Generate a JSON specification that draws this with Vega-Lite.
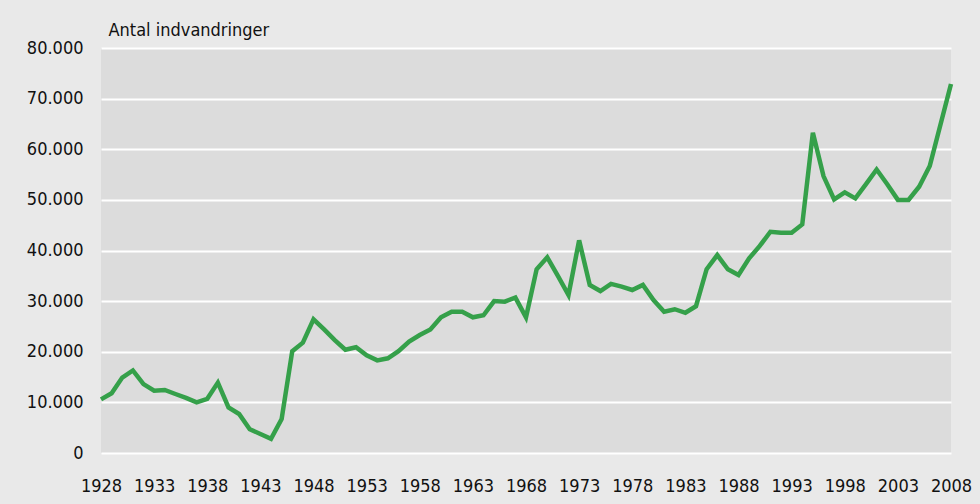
{
  "$schema": "https://vega.github.io/schema/vega-lite/v6.json",
  "width": 850,
  "height": 405,
  "autosize": {"type": "none"},
  "padding": {"left": 101, "top": 48, "right": 29, "bottom": 51},
  "background": "#e9e9e9",
  "config": {
    "view": {"fill": "#dcdcdc", "stroke": null},
    "font": "DejaVu Sans Condensed, Roboto, sans-serif",
    "axis": {"labelFont": "DejaVu Sans Condensed, Roboto, sans-serif", "titleFont": "DejaVu Sans Condensed, Roboto, sans-serif"}
  },
  "data": {
    "values": [
      {"year": 1928, "value": 10600}, {"year": 1929, "value": 11800}, {"year": 1930, "value": 14900},
      {"year": 1931, "value": 16300}, {"year": 1932, "value": 13600}, {"year": 1933, "value": 12300},
      {"year": 1934, "value": 12450}, {"year": 1935, "value": 11650}, {"year": 1936, "value": 10900},
      {"year": 1937, "value": 10000}, {"year": 1938, "value": 10700}, {"year": 1939, "value": 13900},
      {"year": 1940, "value": 9000}, {"year": 1941, "value": 7700}, {"year": 1942, "value": 4700},
      {"year": 1943, "value": 3750}, {"year": 1944, "value": 2800}, {"year": 1945, "value": 6700},
      {"year": 1946, "value": 20100}, {"year": 1947, "value": 21800}, {"year": 1948, "value": 26400},
      {"year": 1949, "value": 24400}, {"year": 1950, "value": 22300}, {"year": 1951, "value": 20400},
      {"year": 1952, "value": 20900}, {"year": 1953, "value": 19300}, {"year": 1954, "value": 18300},
      {"year": 1955, "value": 18700}, {"year": 1956, "value": 20100}, {"year": 1957, "value": 22000},
      {"year": 1958, "value": 23300}, {"year": 1959, "value": 24400}, {"year": 1960, "value": 26800},
      {"year": 1961, "value": 27900}, {"year": 1962, "value": 27900}, {"year": 1963, "value": 26800},
      {"year": 1964, "value": 27200}, {"year": 1965, "value": 30000}, {"year": 1966, "value": 29900},
      {"year": 1967, "value": 30700}, {"year": 1968, "value": 26800}, {"year": 1969, "value": 36300},
      {"year": 1970, "value": 38650}, {"year": 1971, "value": 35000}, {"year": 1972, "value": 31200},
      {"year": 1973, "value": 42000}, {"year": 1974, "value": 33200}, {"year": 1975, "value": 32000},
      {"year": 1976, "value": 33400}, {"year": 1977, "value": 32850}, {"year": 1978, "value": 32200},
      {"year": 1979, "value": 33200}, {"year": 1980, "value": 30200}, {"year": 1981, "value": 27900},
      {"year": 1982, "value": 28400}, {"year": 1983, "value": 27700}, {"year": 1984, "value": 29000},
      {"year": 1985, "value": 36300}, {"year": 1986, "value": 39100}, {"year": 1987, "value": 36300},
      {"year": 1988, "value": 35150}, {"year": 1989, "value": 38450}, {"year": 1990, "value": 40900},
      {"year": 1991, "value": 43700}, {"year": 1992, "value": 43500}, {"year": 1993, "value": 43500},
      {"year": 1994, "value": 45150}, {"year": 1995, "value": 63250}, {"year": 1996, "value": 54700},
      {"year": 1997, "value": 50100}, {"year": 1998, "value": 51500}, {"year": 1999, "value": 50300},
      {"year": 2000, "value": 53100}, {"year": 2001, "value": 56000}, {"year": 2002, "value": 53100},
      {"year": 2003, "value": 50000}, {"year": 2004, "value": 50000}, {"year": 2005, "value": 52600},
      {"year": 2006, "value": 56700}, {"year": 2007, "value": 64800}, {"year": 2008, "value": 72900}
    ]
  },
  "mark": {"type": "line", "color": "#35a04a", "strokeWidth": 4.5, "strokeJoin": "miter", "clip": false},
  "encoding": {
    "x": {
      "field": "year",
      "type": "quantitative",
      "scale": {"domain": [1928, 2008], "nice": false, "zero": false},
      "axis": {
        "values": [1928, 1933, 1938, 1943, 1948, 1953, 1958, 1963, 1968, 1973, 1978, 1983, 1988, 1993, 1998, 2003, 2008],
        "format": "d",
        "title": null,
        "grid": false,
        "domain": false,
        "ticks": false,
        "labelFontSize": 18,
        "labelColor": "#111111",
        "labelPadding": 24,
        "labelFlush": false,
        "labelOverlap": false
      }
    },
    "y": {
      "field": "value",
      "type": "quantitative",
      "scale": {"domain": [0, 80000], "nice": false},
      "axis": {
        "values": [0, 10000, 20000, 30000, 40000, 50000, 60000, 70000, 80000],
        "format": ",d",
        "labelExpr": "replace(datum.label, ',', '.')",
        "title": "Antal indvandringer",
        "titleAngle": 0,
        "titleAlign": "left",
        "titleBaseline": "alphabetic",
        "titleX": 7,
        "titleY": -13,
        "titleFontSize": 18,
        "titleFontWeight": "normal",
        "titleColor": "#111111",
        "grid": true,
        "gridColor": "#ffffff",
        "gridWidth": 2,
        "gridOpacity": 1,
        "domain": false,
        "ticks": false,
        "labelFontSize": 18,
        "labelColor": "#111111",
        "labelPadding": 18,
        "labelFlush": false,
        "labelOverlap": false
      }
    }
  }
}
